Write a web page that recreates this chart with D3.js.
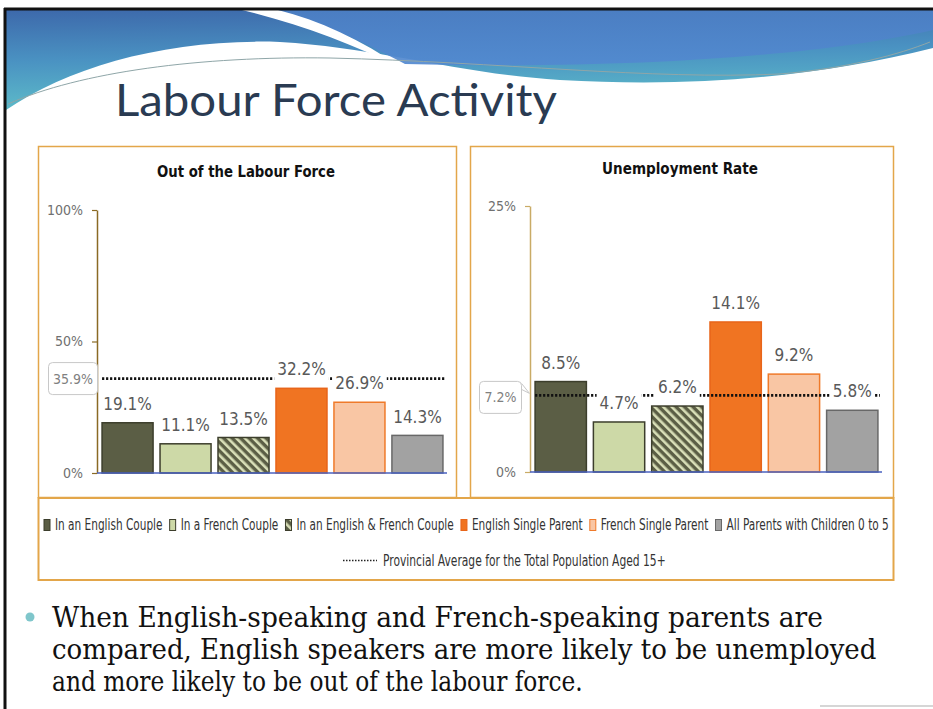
<!DOCTYPE html>
<html><head><meta charset="utf-8">
<script src="https://cdn.jsdelivr.net/npm/d3@7"></script>
<style>
html,body{margin:0;padding:0;background:#fff;}
svg{display:block;}
</style></head>
<body><svg id="c" width="933" height="709"></svg>
<script>
// ---- data ----
const categories = ["In an English Couple","In a French Couple","In an English & French Couple","English Single Parent","French Single Parent","All Parents with Children 0 to 5"];
const outOfLabourForce = [19.1, 11.1, 13.5, 32.2, 26.9, 14.3];
const unemploymentRate = [8.5, 4.7, 6.2, 14.1, 9.2, 5.8];
const provincialAverage = [35.9, 7.2];
const leftTicks = [0, 50, 100];
const rightTicks = [0, 25];
const chartTitles = ["Out of the Labour Force", "Unemployment Rate"];
const averageLabel = "Provincial Average for the Total Population Aged 15+";
const slideTitle = "Labour Force Activity";
const bodyLines = ["When English-speaking and French-speaking parents are",
  "compared, English speakers are more likely to be unemployed",
  "and more likely to be out of the labour force."];
const bodyWidths = [771, 825, 531];

const fills = ["#5b5e45", "#cdd9a7", "url(#hatch)", "#f07422", "#f9c6a4", "#a2a2a2"];
const strokes = ["#3c3e2c", "#3c3e2c", "#3c3e2c", "#e8651a", "#ef7a2a", "#686868"];
const COND = "'Liberation Sans Narrow','DejaVu Sans Condensed','Open Sans',sans-serif";

const svg = d3.select("#c");
const defs = svg.append("defs");

// hatch pattern
const pat = defs.append("pattern").attr("id","hatch").attr("patternUnits","userSpaceOnUse")
  .attr("width",6).attr("height",6).attr("patternTransform","rotate(-45)");
pat.append("rect").attr("width",6).attr("height",6).attr("fill","#5b5e45");
pat.append("rect").attr("x",0).attr("width",2.6).attr("height",6).attr("fill","#d9dfb8");

// banner gradients
const lg = defs.append("linearGradient").attr("id","ban").attr("x1",0).attr("y1",0).attr("x2",0.15).attr("y2",1);
lg.append("stop").attr("offset","0").attr("stop-color","#3d69ab");
lg.append("stop").attr("offset","0.5").attr("stop-color","#4a92c2");
lg.append("stop").attr("offset","1").attr("stop-color","#5dbcc9");
const lg2 = defs.append("linearGradient").attr("id","ban2").attr("x1",0).attr("y1",0).attr("x2",0).attr("y2",1);
lg2.append("stop").attr("offset","0").attr("stop-color","#4c7fc4");
lg2.append("stop").attr("offset","1").attr("stop-color","#5289d0");

// ---- banner ----
svg.append("path").attr("fill","url(#ban)")
  .attr("d","M6,10 L933,10 L933,48 C 820,76 700,88 560,80 C 460,74 380,48 280,42 C 170,38 70,66 6,110 Z");
svg.append("path").attr("fill","url(#ban2)").attr("opacity",0.92)
  .attr("d","M276,10 L933,10 L933,30 C 820,56 620,70 405,64 C 360,40 315,20 276,10 Z");
svg.append("path").attr("fill","#ffffff")
  .attr("d","M242,10 C 300,24 352,44 402,68 C 362,40 318,20 278,10 Z");
svg.append("path").attr("fill","none").attr("stroke","#8fa6a8").attr("stroke-width",1)
  .attr("d","M8,104 C 80,72 200,56 330,58 C 500,62 650,80 780,74 C 850,68 900,54 930,42");

// slide frame
svg.append("line").attr("x1",4).attr("x2",933).attr("y1",9).attr("y2",9).attr("stroke","#111").attr("stroke-width",3);
svg.append("line").attr("x1",5).attr("x2",5).attr("y1",8).attr("y2",709).attr("stroke","#111").attr("stroke-width",3);
svg.append("line").attr("x1",820).attr("x2",933).attr("y1",706).attr("y2",706).attr("stroke","#c8c8c8").attr("stroke-width",1.5);

// title
const tt = svg.append("text").text(slideTitle).attr("font-family","Lato,'Open Sans',sans-serif")
  .attr("font-size",44).attr("fill","#2a3b52").attr("y",116);
{ const w = tt.node().getComputedTextLength(); const s = 442 / w;
  tt.attr("transform",`translate(115,0) scale(${s},1)`); }

// ---- panels ----
const gold = "#e3a64a";
svg.append("rect").attr("x",38.5).attr("y",146.5).attr("width",418).attr("height",351).attr("fill","#fff").attr("stroke",gold).attr("stroke-width",1.5);
svg.append("rect").attr("x",470.5).attr("y",146.5).attr("width",423).attr("height",351).attr("fill","#fff").attr("stroke",gold).attr("stroke-width",1.5);
svg.append("rect").attr("x",38.5).attr("y",498).attr("width",855).attr("height",82).attr("fill","#fff").attr("stroke",gold).attr("stroke-width",2);

function fitX(sel, target) {
  const w = sel.node().getComputedTextLength();
  return target / w;
}

function drawChart(cfg) {
  const g = svg.append("g");
  const x = d3.scaleBand().domain(categories).range(cfg.xr).paddingInner(0.12).paddingOuter(0.07);
  const y = d3.scaleLinear().domain([0, cfg.max]).range(cfg.yr);
  // title
  const t = g.append("text").text(cfg.title).attr("x",0).attr("y",cfg.titleY)
    .attr("text-anchor","middle").attr("font-family",COND).attr("font-weight","bold")
    .attr("font-size",16).attr("fill","#111");
  t.attr("transform",`translate(${cfg.titleX},0) scale(${fitX(t, cfg.titleW)},1)`);
  // axis
  const ax = g.append("g").attr("transform",`translate(${cfg.xr[0]-1},0)`)
    .call(d3.axisLeft(y).tickValues(cfg.ticks).tickFormat(d => d + "%").tickSize(5).tickSizeOuter(0));
  ax.select(".domain").attr("stroke",cfg.axisColor).attr("stroke-width",1.5);
  ax.selectAll(".tick line").attr("stroke",cfg.axisColor).attr("stroke-width",1.2);
  ax.selectAll(".tick text").attr("font-family",COND).attr("font-size",14).attr("fill","#707070").attr("dx",-6);
  // bars
  g.selectAll("rect.bar").data(cfg.values).join("rect").attr("class","bar")
    .attr("x",(d,i)=>x(categories[i])).attr("width",x.bandwidth())
    .attr("y",d=>y(d)).attr("height",d=>y(0)-y(d))
    .attr("fill",(d,i)=>fills[i]).attr("stroke",(d,i)=>strokes[i]).attr("stroke-width",1.5);
  // baseline
  g.append("line").attr("x1",cfg.xr[0]-1).attr("x2",cfg.xr[1]).attr("y1",y(0)).attr("y2",y(0))
    .attr("stroke","#4a62c0").attr("stroke-width",1.5);
  // average dotted line
  const ay = y(cfg.avg);
  g.append("line").attr("x1",x(categories[0])).attr("x2",x(categories[5])+x.bandwidth()+2)
    .attr("y1",ay).attr("y2",ay).attr("stroke","#111").attr("stroke-width",2.6).attr("stroke-dasharray","2.2,1.8");
  // value labels with white background
  const lab = g.selectAll("g.lab").data(cfg.values).join("g").attr("class","lab")
    .attr("transform",(d,i)=>`translate(${x(categories[i]) + x.bandwidth()/2},${y(d)-19})`);
  lab.append("rect").attr("fill","#fff");
  lab.append("text").text(d=>d.toFixed(1)+"%").attr("text-anchor","middle").attr("dy","0.36em")
    .attr("font-family",COND).attr("font-size",17).attr("fill","#595959");
  lab.each(function(){
    const t = d3.select(this).select("text").node().getBBox();
    d3.select(this).select("rect").attr("x",t.x-3).attr("width",t.width+6).attr("y",-12).attr("height",24);
  });
  // callout box for average
  const cb = g.append("g").attr("transform",`translate(${cfg.calloutX},${ay})`);
  if (cfg.pointer) {
    cb.append("path").attr("d",`M${cfg.calloutW},-12 L${cfg.calloutW+8},-2 L${cfg.calloutW},-6`)
      .attr("fill","#fff").attr("stroke","#c8c8c8").attr("stroke-width",1);
  }
  cb.append("rect").attr("x",0).attr("y",-cfg.calloutH/2 + cfg.calloutOff).attr("width",cfg.calloutW).attr("height",cfg.calloutH)
    .attr("rx",4).attr("fill","#fff").attr("stroke","#c8c8c8").attr("stroke-width",1);
  cb.append("text").text(cfg.avg.toFixed(1)+"%").attr("x",cfg.calloutW/2).attr("y",cfg.calloutOff).attr("dy","0.36em")
    .attr("text-anchor","middle").attr("font-family",COND).attr("font-size",14).attr("fill","#808080");
}

drawChart({values: outOfLabourForce, max: 100, ticks: leftTicks, xr: [98, 447], yr: [473, 210],
  title: chartTitles[0], titleX: 246, titleY: 177, titleW: 178, axisColor: "#8a6a24", avg: provincialAverage[0],
  calloutX: 48.5, calloutW: 49, calloutH: 32, calloutOff: 0, pointer: false});
drawChart({values: unemploymentRate, max: 25, ticks: rightTicks, xr: [531, 882], yr: [472, 206],
  title: chartTitles[1], titleX: 680, titleY: 174, titleW: 156, axisColor: "#c9ab66", avg: provincialAverage[1],
  calloutX: 479.5, calloutW: 42, calloutH: 32, calloutOff: 2, pointer: true});

// ---- legend ----
const leg = svg.append("g");
const items = leg.selectAll("g").data(categories).join("g");
items.append("rect").attr("width",6).attr("height",11).attr("y",-5.5)
  .attr("fill",(d,i)=>fills[i]).attr("stroke",(d,i)=>strokes[i]).attr("stroke-width",1);
const ltx = items.append("text").text(d=>d).attr("dy","0.35em")
  .attr("font-family",COND).attr("font-size",15).attr("fill","#333");
{
  const widths = ltx.nodes().map(n=>n.getComputedTextLength());
  const gap = 7, sq = 11;
  const f = (889-44 - categories.length*sq - (categories.length-1)*gap) / widths.reduce((a,b)=>a+b,0);
  let cx = 44;
  items.each(function(d,i){
    d3.select(this).attr("transform",`translate(${cx},525)`);
    d3.select(this).select("text").attr("transform",`translate(${sq},0) scale(${f},1)`);
    cx += sq + widths[i]*f + gap;
  });
}
leg.append("line").attr("x1",343).attr("x2",377).attr("y1",560.5).attr("y2",560.5)
  .attr("stroke","#222").attr("stroke-width",1.6).attr("stroke-dasharray","1.5,1.5");
const avt = leg.append("text").text(averageLabel).attr("y",561).attr("dy","0.35em")
  .attr("font-family",COND).attr("font-size",15).attr("fill","#333");
avt.attr("transform",`translate(383,0) scale(${fitX(avt,283)},1)`);

// ---- body text ----
svg.append("circle").attr("cx",30).attr("cy",617).attr("r",4.5).attr("fill","#7fc6cb");
const body = svg.append("g");
body.selectAll("text").data(bodyLines).join("text").text(d=>d)
  .attr("y",(d,i)=>627 + i*32).attr("font-family","'DejaVu Serif','Liberation Serif',serif")
  .attr("font-size",28).attr("fill","#111")
  .each(function(d,i){
    const s = fitX(d3.select(this), bodyWidths[i]);
    d3.select(this).attr("transform",`translate(52,0) scale(${s},1)`);
  });
</script></body></html>
